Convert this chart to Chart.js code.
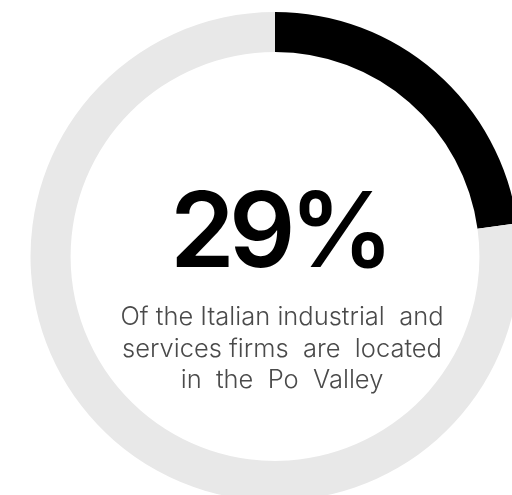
<!DOCTYPE html>
<html>
<head>
<meta charset="utf-8">
<script src="https://cdn.jsdelivr.net/npm/chart.js@4.4.1/dist/chart.umd.min.js"></script>
<style>
    html, body { margin: 0; padding: 0; background: #fff; overflow: hidden; }
    #wrap { position: absolute; left: 0; top: 0; width: 550px; height: 513px; }
</style>
</head>
<body>
<div id="wrap"><canvas id="myChart" width="550" height="513"></canvas></div>
<script>
// ring data: Po Valley share, then the remainder of the ring
const labels = ['Po Valley', 'Rest'];
const values = [29, 98];
const colors = ['#000000', '#e8e8e8'];

// caption under the big number
const captionLines = [
    'Of the Italian industrial  and',
    'services firms  are  located',
    'in  the  Po  Valley'
];

let myChart = document.getElementById('myChart').getContext('2d');

const centerText = {
    id: 'centerText',
    afterDraw(chart) {
        const ctx = chart.ctx;
        const cx = 282;
        ctx.save();
        ctx.textAlign = 'center';
        ctx.textBaseline = 'alphabetic';

        ctx.fillStyle = '#000';
        ctx.font = '600 104px Inter';
        ctx.letterSpacing = '-6px';
        ctx.fillText(values[0] + '%', cx - 3, 267);
        ctx.letterSpacing = '0px';

        ctx.fillStyle = '#4a4a4a';
        ctx.font = '300 25.5px Inter';
        for (let i = 0; i < captionLines.length; i++) {
            ctx.fillText(captionLines[i], cx, 325 + i * 31.5);
        }
        ctx.restore();
    }
};

let mainChart = new Chart(myChart, {
    type: 'doughnut',
    data: {
        labels: labels,
        datasets: [{
            data: values,
            backgroundColor: colors,
            borderWidth: 0
        }]
    },
    options: {
        responsive: false,
        animation: false,
        cutout: '83.6%',
        layout: { padding: 12 },
        plugins: {
            legend: { display: false },
            tooltip: { enabled: false }
        }
    },
    plugins: [centerText]
});
</script>
</body>
</html>
